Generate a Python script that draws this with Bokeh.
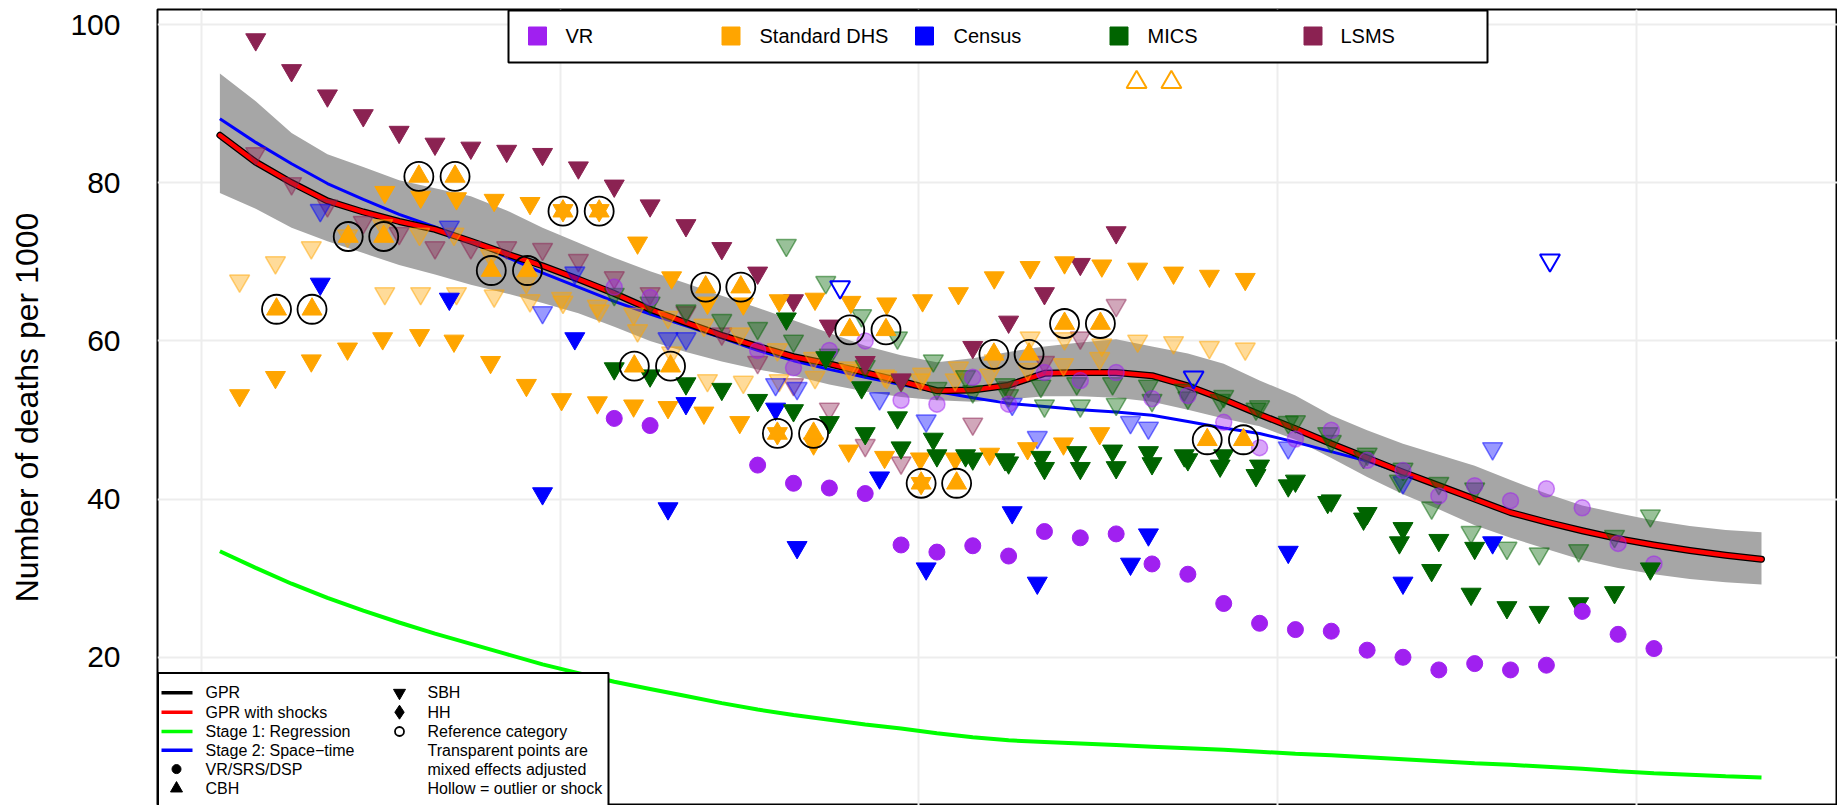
from bokeh.plotting import figure
from bokeh.models import FixedTicker, Grid
from bokeh.core.properties import value
from bokeh.embed import file_html
from bokeh.resources import INLINE

FONT = "Liberation Sans"

# ---------------- data ----------------
years = [1970.5, 1971.5, 1972.5, 1973.5, 1974.5, 1975.5, 1976.5, 1977.5, 1978.5, 1979.5,
         1980.5, 1981.5, 1982.5, 1983.5, 1984.5, 1985.5, 1986.5, 1987.5, 1988.5, 1989.5,
         1990.5, 1991.5, 1992.5, 1993.5, 1994.5, 1995.5, 1996.5, 1997.5, 1998.5, 1999.5,
         2000.5, 2001.5, 2002.5, 2003.5, 2004.5, 2005.5, 2006.5, 2007.5, 2008.5, 2009.5,
         2010.5, 2011.5, 2012.5, 2013.5]
gpr = [86.0, 82.6, 80.0, 77.7, 76.3, 75.1, 74.1, 72.6, 71.0, 69.5,
       67.8, 66.0, 64.0, 62.3, 60.7, 59.3, 58.0, 57.1, 56.0, 54.9,
       53.7, 53.8, 54.4, 55.9, 56.0, 56.0, 55.6, 54.3, 52.6, 50.7,
       48.9, 47.0, 45.2, 43.4, 41.7, 40.0, 38.3, 37.1, 36.0, 35.0,
       34.2, 33.5, 32.9, 32.4]
gpr_shocks = [86.0, 82.6, 80.0, 77.7, 76.3, 75.1, 74.1, 72.6, 71.0, 69.5,
              67.8, 66.0, 64.0, 62.3, 60.7, 59.3, 58.0, 57.1, 56.0, 54.9,
              53.7, 53.8, 54.4, 55.9, 56.0, 56.0, 55.6, 54.3, 52.6, 50.7,
              48.9, 47.0, 45.2, 43.4, 41.7, 40.0, 38.3, 37.1, 36.0, 35.0,
              34.2, 33.5, 32.9, 32.4]
stage2 = [88.1, 85.1, 82.4, 79.9, 77.9, 76.0, 74.4, 72.6, 70.6, 68.6,
          66.8, 65.0, 63.4, 61.9, 60.4, 58.8, 57.5, 56.4, 55.4, 54.5,
          53.6, 52.8, 52.1, 51.7, 51.3, 51.0, 50.6, 49.8, 49.0, 48.3,
          47.2, 46.0, 44.8, 43.3, 41.7, 40.0, 38.3, 37.1, 36.0, 35.0,
          34.2, 33.5, 32.9, 32.4]
stage1 = [33.4, 31.3, 29.3, 27.5, 25.9, 24.4, 23.0, 21.7, 20.4, 19.1,
          18.0, 16.9, 16.0, 15.1, 14.2, 13.4, 12.7, 12.1, 11.5, 11.0,
          10.4, 9.9, 9.5, 9.3, 9.1, 8.9, 8.7, 8.5, 8.3, 8.05,
          7.8, 7.6, 7.35, 7.1, 6.85, 6.6, 6.4, 6.15, 5.9, 5.6,
          5.35, 5.15, 4.95, 4.8]
band_hi = [93.8, 90.3, 86.3, 83.6, 82.0, 80.3, 79.3, 78.3, 76.5, 74.3,
           72.4, 70.5, 68.8, 67.3, 65.7, 64.2, 62.6, 61.0, 59.4, 58.2,
           57.3, 57.8, 58.6, 59.3, 59.8, 60.2, 59.3, 58.4, 57.1, 55.0,
           53.1, 50.6, 48.7, 47.0, 45.6, 44.2, 42.4, 40.7, 39.2, 38.2,
           37.3, 36.6, 36.1, 35.8]
band_lo = [78.7, 76.7, 74.3, 72.6, 71.1, 69.6, 68.4, 67.1, 66.0, 64.8,
           63.5, 61.8, 60.0, 58.6, 57.4, 56.4, 55.6, 54.5, 53.6, 52.9,
           52.5, 52.3, 52.6, 53.0, 53.0, 52.8, 52.3, 51.3, 50.2, 49.2,
           47.5, 45.2, 42.8, 40.6, 38.7, 36.7, 35.1, 33.7, 32.3, 31.3,
           30.5, 29.9, 29.5, 29.2]

# VR (circles)
vr_year = [1981.5, 1982.5, 1985.5, 1986.5, 1987.5, 1988.5, 1989.5, 1990.5, 1991.5, 1992.5,
           1993.5, 1994.5, 1995.5, 1996.5, 1997.5, 1998.5, 1999.5, 2000.5, 2001.5, 2002.5,
           2003.5, 2004.5, 2005.5, 2006.5, 2007.5, 2008.5, 2009.5, 2010.5]
vr = [50.2, 49.3, 44.3, 42.0, 41.4, 40.7, 34.2, 33.3, 34.1, 32.8,
      35.9, 35.1, 35.6, 31.8, 30.5, 26.8, 24.3, 23.5, 23.3, 20.9,
      20.0, 18.4, 19.2, 18.4, 19.0, 25.8, 22.9, 21.1]
vr_adj = [66.8, 65.5, 58.8, 56.6, 58.8, 60.0, 52.5, 52.0, 55.4, 52.0,
          56.0, 55.0, 56.0, 52.7, 53.1, 49.7, 46.5, 47.6, 48.7, 44.9,
          43.6, 40.4, 41.7, 39.8, 41.3, 38.9, 34.4, 31.8]

# Standard DHS, SBH (down triangles)
dhs_a_year = [1975.1, 1976.1, 1977.1, 1978.15, 1979.15, 1980.07, 1981.08, 1982.15, 1983.1, 1984.1,
              1985.1, 1986.1, 1987.1, 1988.1, 1989.1, 1990.1, 1991.1, 1992.1, 1993.1, 1994.06,
              1995.1, 1996.1, 1997.1, 1998.1, 1999.1]
dhs_a = [78.8, 78.2, 78.0, 77.8, 77.4, 76.5, 76.5, 72.4, 68.0, 64.8,
         64.7, 65.1, 65.3, 64.9, 64.7, 65.1, 66.0, 68.0, 69.3, 69.9,
         69.5, 69.1, 68.6, 68.2, 67.8]
dhs_a_adj = [66.0, 66.0, 66.0, 65.7, 65.1, 64.9, 63.8, 61.3, 58.5, 55.0,
             54.8, 55.0, 55.4, 56.3, 55.4, 55.8, 56.6, 57.5, 60.4, 60.3,
             59.5, 60.0, 59.8, 59.2, 59.0]
dhs_b_year = [1971.05, 1972.05, 1973.05, 1974.06, 1975.04, 1976.07, 1977.03, 1978.05, 1979.05, 1980.03,
              1981.03, 1982.04, 1983.0, 1984.0, 1985.0, 1986.05, 1987.06, 1988.04, 1989.04, 1990.04,
              1991.01, 1991.97, 1993.03, 1994.03, 1995.04]
dhs_b = [53.1, 55.4, 57.5, 59.0, 60.3, 60.7, 60.0, 57.3, 54.4, 52.6,
         52.2, 51.8, 51.6, 50.9, 49.7, 48.3, 47.0, 46.1, 45.3, 45.1,
         45.1, 45.7, 46.4, 47.0, 48.3]
dhs_b_adj = [67.6, 69.9, 71.8, 73.3, 74.6, 73.5, 73.5, 70.8, 67.4, 65.4,
             64.4, 63.4, 63.0, 62.0, 60.9, 58.9, 57.8, 56.6, 55.6, 55.1,
             55.1, 55.7, 56.4, 57.0, 57.8]
dhs_c_year = [1990.06]
dhs_c = [42.0]
# Standard DHS, CBH (up triangles, reference category)
cbh_year = [1972.08, 1973.07, 1974.08, 1975.07, 1976.05, 1977.06, 1978.07, 1979.08, 1980.07, 1981.08,
            1982.06, 1983.07, 1984.05, 1985.03, 1986.05, 1987.06, 1988.07, 1989.08, 1990.06, 1991.05,
            1992.09, 1993.07, 1994.06, 1995.06, 1998.04, 1999.05]
cbh = [64.0, 64.0, 73.2, 73.2, 80.8, 80.8, 68.9, 68.9, 76.4, 76.4,
       56.8, 56.8, 66.8, 66.8, 48.3, 48.3, 61.4, 61.4, 42.0, 42.0,
       58.3, 58.3, 62.2, 62.2, 47.5, 47.5]
dhs_out_year = [1996.07, 1997.04]
dhs_out = [92.7, 92.7]

# Census
census_year = [1973.3, 1976.9, 1979.5, 1980.4, 1983.0, 1983.5, 1986.0, 1986.6, 1988.9, 1990.2,
               1992.6, 1993.3, 1995.9, 1996.4, 2000.3, 2003.5, 2006.0]
census = [67.2, 65.3, 40.7, 60.3, 38.8, 52.1, 51.4, 33.9, 42.7, 31.2,
          38.3, 29.4, 31.8, 35.5, 33.3, 29.4, 34.5]
census_adj = [76.5, 74.4, 63.6, 68.6, 60.3, 60.3, 54.5, 54.0, 52.7, 49.9,
              52.0, 47.8, 49.7, 49.0, 46.5, 42.1, 46.4]
census_out_year = [1987.8, 1997.66, 2007.6]
census_out = [66.8, 55.4, 70.2]

# MICS
mics1_year = [1981.5, 1982.5, 1983.5, 1984.5, 1985.5, 1986.5, 1987.5, 1988.5, 1989.5, 1990.5,
              1991.5, 1992.5, 1993.5, 1994.5, 1995.5, 1996.5, 1997.5, 1998.5, 1999.5, 2000.5,
              2001.5, 2002.5, 2003.5, 2004.5, 2005.5]
mics1 = [56.5, 55.6, 54.6, 53.9, 52.5, 51.2, 49.7, 48.3, 46.5, 45.5,
         45.1, 44.6, 43.9, 43.9, 44.0, 44.5, 45.0, 45.5, 44.2, 42.3,
         39.8, 38.2, 36.3, 34.8, 33.8]
mics1_adj = [65.9, 64.8, 63.8, 62.6, 61.6, 60.0, 58.2, 56.8, 55.0, 54.0,
             53.6, 53.1, 51.8, 51.8, 52.0, 52.5, 52.8, 53.0, 51.7, 49.8,
             47.3, 45.7, 43.8, 42.0, 41.3]
mics2_year = [1986.3, 1987.4, 1988.4, 1989.4, 1990.4, 1991.3, 1992.4, 1993.4, 1994.4, 1995.4,
              1996.4, 1997.4, 1998.4, 1999.4, 2000.3, 2001.4, 2002.4, 2003.4, 2004.3, 2005.4,
              2006.4, 2007.3, 2008.4, 2009.4, 2010.4]
mics2 = [62.8, 57.9, 54.1, 50.3, 47.6, 45.5, 45.0, 45.3, 45.9, 46.1,
         45.9, 45.5, 44.2, 43.0, 41.7, 39.6, 37.5, 34.5, 31.0, 28.0,
         26.3, 25.7, 26.8, 28.2, 31.2]
mics2_adj = [72.1, 67.4, 63.2, 60.4, 57.5, 55.5, 54.5, 54.3, 54.6, 54.6,
             54.3, 53.8, 52.5, 51.4, 49.7, 48.3, 45.3, 42.3, 38.9, 35.8,
             33.8, 33.1, 33.5, 35.3, 37.9]

# LSMS
lsms_year = [1971.5, 1972.5, 1973.5, 1974.5, 1975.5, 1976.5, 1977.5, 1978.5, 1979.5, 1980.5,
             1981.5, 1982.5, 1983.5, 1984.5, 1985.5, 1986.5, 1987.5, 1988.5, 1989.5, 1991.5,
             1992.5, 1993.5, 1994.5, 1995.5]
lsms = [98.1, 94.2, 91.0, 88.5, 86.4, 84.9, 84.4, 84.0, 83.6, 81.9,
        79.6, 77.1, 74.6, 71.7, 68.6, 65.1, 61.9, 57.3, 55.1, 59.2,
        62.4, 66.0, 69.7, 73.7]
lsms_adj = [83.7, 79.9, 77.1, 75.0, 73.6, 71.8, 71.8, 71.8, 71.6, 70.2,
            68.0, 66.0, 63.6, 60.9, 57.3, 54.5, 51.4, 46.8, 44.6, 49.5,
            54.1, 57.3, 60.4, 64.5]

source_labels = ["VR", "Standard DHS", "Census", "MICS", "LSMS"]
y_ticks = [20, 40, 60, 80, 100]
x_grid = [1970, 1980, 1990, 2000, 2010]

C_VR, C_DHS, C_CEN, C_MICS, C_LSMS = "#A020F0", "#FFA500", "#0000FF", "#006400", "#8B2252"
source_colors = [C_VR, C_DHS, C_CEN, C_MICS, C_LSMS]

# ---------------- layout (page pixels) ----------------
W, H = 1837, 805
FR_L, FR_T, FR_R, FR_B = 157, 9, 1837, 805
XMIN, XMAX = 1968.76, 2015.62
YMIN, YMAX = 1.26, 101.9


def X(px):
    return XMIN + (px - FR_L) / (FR_R - FR_L) * (XMAX - XMIN)


def Y(py):
    return YMAX - (py - FR_T) / (FR_B - FR_T) * (YMAX - YMIN)


p = figure(width=W, height=H, x_range=(XMIN, XMAX), y_range=(YMIN, YMAX),
           output_backend="svg", toolbar_location=None, x_axis_location=None,
           min_border_left=FR_L, min_border_right=W - FR_R, min_border_top=FR_T,
           min_border_bottom=H - FR_B)
p.background_fill_color = "white"
p.border_fill_color = "white"
p.outline_line_color = "black"
p.outline_line_width = 2

ax = p.yaxis[0]
ax.ticker = FixedTicker(ticks=y_ticks)
ax.axis_line_color = None
ax.major_tick_line_color = None
ax.minor_tick_line_color = None
ax.major_tick_out = 0
ax.major_tick_in = 0
ax.major_label_standoff = 37
ax.major_label_text_font = FONT
ax.major_label_text_font_size = "30px"
ax.major_label_text_color = "black"
ax.axis_label = "Number of deaths per 1000"
ax.axis_label_text_font = FONT
ax.axis_label_text_font_size = "32px"
ax.axis_label_text_font_style = "normal"
ax.axis_label_text_color = "black"
ax.axis_label_standoff = 22

p.ygrid.ticker = FixedTicker(ticks=y_ticks)
p.ygrid.grid_line_color = "#EDEDED"
p.ygrid.grid_line_width = 2
p.add_layout(Grid(dimension=0, ticker=FixedTicker(ticks=x_grid),
                  grid_line_color="#EDEDED", grid_line_width=2))

# uncertainty band and lines
p.varea(x=years, y1=band_lo, y2=band_hi, fill_color="#A6A6A6")
p.line(years, stage1, line_color="#00FF00", line_width=4)
p.line(years, stage2, line_color="#0000FF", line_width=3)
p.line(years, gpr, line_color="black", line_width=7, line_cap="round", line_join="round")
p.line(years, gpr_shocks, line_color="#FF0000", line_width=4.5, line_cap="round", line_join="round")

TRI = 20
ALPHA = 0.4


def adj(xs, ys, color, marker="inverted_triangle", size=TRI):
    p.scatter(xs, ys, marker=marker, size=size, fill_color=color, fill_alpha=ALPHA,
              line_color=color, line_alpha=0.5, line_width=1.5)


def solid(xs, ys, color, marker="inverted_triangle", size=TRI):
    p.scatter(xs, ys, marker=marker, size=size, fill_color=color, line_color=color, line_width=1)


def hollow(xs, ys, color, marker="inverted_triangle", size=TRI):
    p.scatter(xs, ys, marker=marker, size=size, fill_color=None, line_color=color, line_width=2)


# mixed-effects adjusted (transparent)
adj(lsms_year, lsms_adj, C_LSMS)
adj(dhs_a_year, dhs_a_adj, C_DHS)
adj(dhs_b_year, dhs_b_adj, C_DHS)
adj(census_year, census_adj, C_CEN)
adj(mics1_year, mics1_adj, C_MICS)
adj(mics2_year, mics2_adj, C_MICS)
adj(vr_year, vr_adj, C_VR, marker="circle", size=16)

# raw data
solid(lsms_year, lsms, C_LSMS)
solid(dhs_a_year, dhs_a, C_DHS)
solid(dhs_b_year, dhs_b, C_DHS)
solid(dhs_c_year, dhs_c, C_DHS)
solid(census_year, census, C_CEN)
solid(mics1_year, mics1, C_MICS)
solid(mics2_year, mics2, C_MICS)
solid(vr_year, vr, C_VR, marker="circle", size=16)
solid(cbh_year, cbh, C_DHS, marker="triangle")
p.scatter(cbh_year, cbh, marker="circle", size=29, fill_color=None, line_color="black", line_width=1.8)

# outliers / shocks (hollow)
hollow(census_out_year, census_out, C_CEN)
hollow(dhs_out_year, dhs_out, C_DHS, marker="triangle")

# ---------------- top legend (sources) ----------------
TXT = dict(text_font=value(FONT), text_baseline="middle", text_align="left", text_color="black")
p.quad(left=[X(508)], right=[X(1487)], top=[Y(10)], bottom=[Y(62)],
       fill_color="white", line_color="black", line_width=2)
sq_px = [537, 730.5, 924, 1118.5, 1312.5]
tx_px = [565, 759, 953, 1147, 1340]
p.scatter([X(v) for v in sq_px], [Y(35.5)] * 5, marker="square", size=18,
          fill_color=source_colors, line_color=source_colors)
p.text([X(v) for v in tx_px], [Y(35.5)] * 5, text=source_labels,
       text_font_size=value("20px"), **TXT)

# ---------------- bottom-left legend ----------------
p.quad(left=[X(157.5)], right=[X(608)], top=[Y(672.5)], bottom=[Y(830)],
       fill_color="white", line_color="black", line_width=2)
rows = [692.3, 711.7, 731, 749.8, 768.6, 788]
line_labels = ["GPR", "GPR with shocks", "Stage 1: Regression", "Stage 2: Space\u2212time"]
line_colors = ["black", "#FF0000", "#00FF00", "#0000FF"]
p.segment(x0=[X(161)] * 4, x1=[X(192)] * 4, y0=[Y(r) for r in rows[:4]], y1=[Y(r) for r in rows[:4]],
          line_color=line_colors, line_width=3.5)
p.scatter([X(176)], [Y(rows[4])], marker="circle", size=9, fill_color="black", line_color="black")
p.scatter([X(176)], [Y(rows[5])], marker="triangle", size=12, fill_color="black", line_color="black")
col1_labels = line_labels + ["VR/SRS/DSP", "CBH"]
p.text([X(205)] * 6, [Y(r) for r in rows], text=col1_labels, text_font_size=value("16px"), **TXT)

p.scatter([X(399)], [Y(rows[0])], marker="inverted_triangle", size=12, fill_color="black", line_color="black")
p.scatter([X(399)], [Y(rows[1])], marker="diamond", size=14, fill_color="black", line_color="black")
p.scatter([X(399)], [Y(rows[2])], marker="circle", size=9, fill_color=None, line_color="black", line_width=1.8)
col2_labels = ["SBH", "HH", "Reference category", "Transparent points are",
               "mixed effects adjusted", "Hollow = outlier or shock"]
p.text([X(427)] * 6, [Y(r) for r in rows], text=col2_labels, text_font_size=value("16px"), **TXT)

open("out.html", "w").write(file_html(p, INLINE))
